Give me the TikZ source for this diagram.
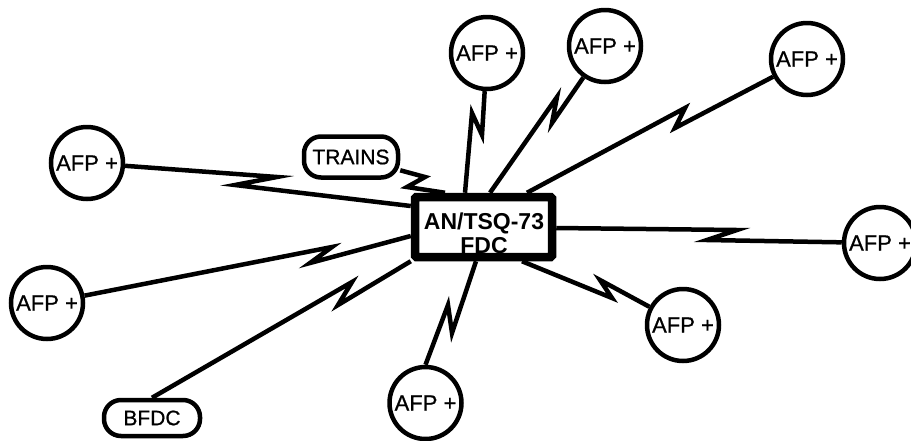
\documentclass[tikz,border=0pt]{standalone}
\usepackage{fontspec}
\setmainfont{Liberation Sans}
\newfontfamily\medfont[FakeBold=0.8]{Liberation Sans}
\begin{document}
\begin{tikzpicture}[x=1pt,y=-1pt,
  afp/.style={draw,circle,line width=4.5pt,minimum size=72pt,inner sep=0pt,font=\medfont\fontsize{22}{24}\selectfont},
  pill/.style={draw,rectangle,rounded corners=17pt,line width=4.5pt,inner sep=0pt,font=\medfont\fontsize{21}{24}\selectfont},
  centerbox/.style={draw,line width=8.5pt,rounded corners=1.5pt,minimum width=137pt,minimum height=60pt,inner sep=0pt},
  link/.style={line width=4.5pt,line join=miter}]
\clip (0,0) rectangle (911,440);
% central box
\node[centerbox] (fdc) at (483.5,227) {};
\node[font=\bfseries\fontsize{23}{24}\selectfont,align=center,inner sep=0pt] (fdctext) at (484,233) {AN/TSQ-73\\FDC};
% AFP circles
\node[afp] (a1) at (87,163) {AFP +};
\node[afp] (a2) at (47,303) {AFP +};
\node[afp] (a3) at (487,53) {AFP +};
\node[afp] (a4) at (605,46) {AFP +};
\node[afp] (a5) at (807,59) {AFP +};
\node[afp] (a6) at (880,243) {AFP +};
\node[afp] (a7) at (683,325) {AFP +};
\node[afp] (a8) at (425.5,403) {AFP +};
% rounded boxes
\node[pill,minimum width=94pt,minimum height=41pt] (trains) at (351,157) {TRAINS};
\node[pill,minimum width=96pt,minimum height=36pt] (bfdc) at (152,418) {BFDC};
% connectors with lightning zig
\draw[link] (a1) -- (277,177) -- (235,185) -- (fdc.west |- 0,206);
\draw[link] (trains) -- (425,177) -- (407,187) -- (445,0 |- fdc.north);
\draw[link] (a3) -- (482,135) -- (472,113) -- (465,0 |- fdc.north);
\draw[link] (a4) -- (552,123) -- (557,97) -- (490,0 |- fdc.north);
\draw[link] (a5) -- (675,128) -- (685,108) -- (527,0 |- fdc.north);
\draw[link] (fdc.east |- 0,228) -- (737,230) -- (707,240) -- (a6);
\draw[link] (522,0 |- fdc.south) -- (612,298) -- (600,280) -- (a7);
\draw[link] (476,0 |- fdc.south) -- (452,333) -- (448,305) -- (a8.north);
\draw[link] (a2) -- (332,247) -- (310,263) -- (fdc.west |- 0,236);
\draw[link] (bfdc.north) -- (352,282) -- (338,305) -- (fdc.south west);
\end{tikzpicture}
\end{document}
